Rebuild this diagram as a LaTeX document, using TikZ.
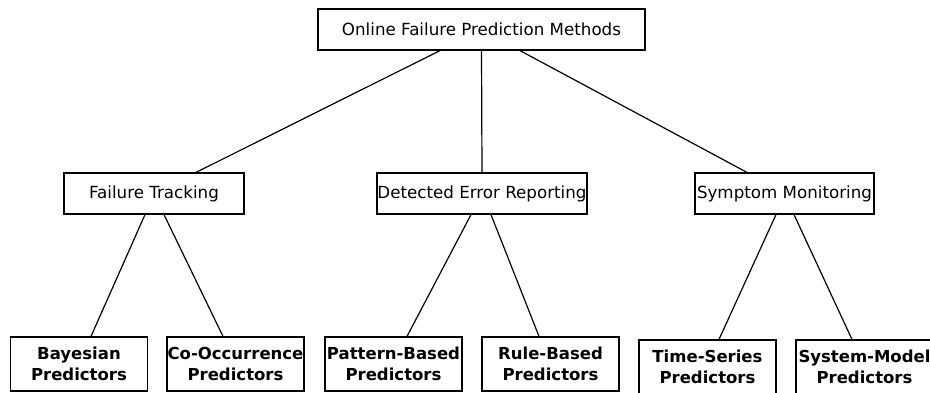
\documentclass[tikz,border=0pt]{standalone}
\usepackage{fontspec}
\setmainfont{DejaVu Sans}
\begin{document}
\begin{tikzpicture}[x=1pt,y=-1pt,line width=1.2pt,
  box/.style={draw,rectangle,inner sep=0pt,align=center,font=\fontsize{16.7}{20.5}\selectfont},
  leafbox/.style={box,minimum width=137pt,minimum height=54pt,font=\fontsize{16.5}{20.5}\selectfont\bfseries},
  link/.style={line width=1.2pt}]
\clip (0,0) rectangle (930,392);
\useasboundingbox (0,0) rectangle (930,392);

% root
\node[box,minimum width=327pt,minimum height=41pt] (root) at (481.5,29.5) {Online Failure Prediction Methods};

% categories
\node[box,minimum width=180pt,minimum height=41pt] (ft) at (154,193.5) {Failure Tracking};
\node[box,minimum width=210pt,minimum height=41pt] (der) at (482,193.5) {Detected Error Reporting};
\node[box,minimum width=179pt,minimum height=41pt] (sm) at (784.5,193.5) {Symptom Monitoring};

% leaves
\node[leafbox] (bay) at (79,364) {Bayesian\\Predictors};
\node[leafbox] (coo) at (235.5,364) {Co-Occurrence\\Predictors};
\node[leafbox] (pat) at (393.5,364) {Pattern-Based\\Predictors};
\node[leafbox] (rule) at (550.5,364) {Rule-Based\\Predictors};
\node[leafbox] (ts) at (707.5,367) {Time-Series\\Predictors};
\node[leafbox] (sys) at (864.5,367) {System-Model\\Predictors};

% connectors
\draw[link] ([xshift=-41.5pt]root.south) -- ([xshift=42pt]ft.north);
\draw[link] (root.south) -- (der.north);
\draw[link] ([xshift=38.5pt]root.south) -- ([xshift=-37.5pt]sm.north);

\draw[link] ([xshift=-9pt]ft.south) -- ([xshift=12pt]bay.north);
\draw[link] ([xshift=10pt]ft.south) -- ([xshift=-12.5pt]coo.north);
\draw[link] ([xshift=-11pt]der.south) -- ([xshift=13.5pt]pat.north);
\draw[link] ([xshift=9pt]der.south) -- ([xshift=-11.5pt]rule.north);
\draw[link] ([xshift=-8.5pt]sm.south) -- ([xshift=11.5pt]ts.north);
\draw[link] ([xshift=9.5pt]sm.south) -- ([xshift=-12.5pt]sys.north);
\end{tikzpicture}
\end{document}
